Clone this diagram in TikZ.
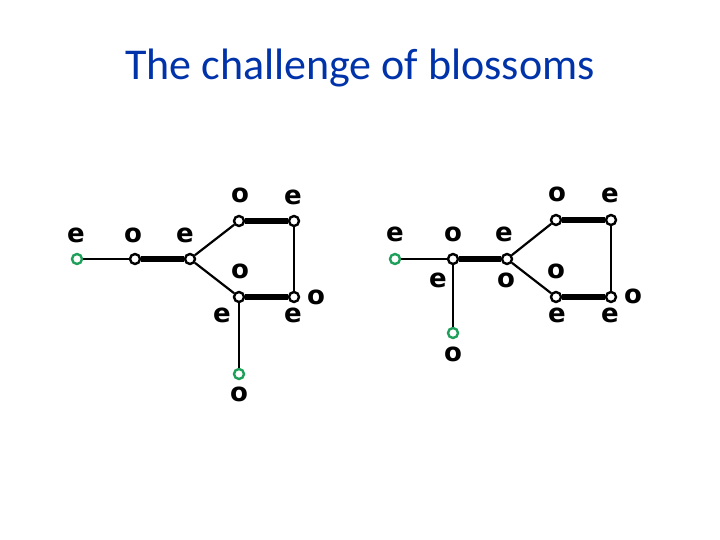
\documentclass[tikz,border=0pt]{standalone}
\usepackage{fontspec}
\setmainfont{Carlito}
\newfontfamily\lblfont{DejaVu Sans}
\definecolor{titleblue}{RGB}{0,51,170}
\definecolor{expgreen}{RGB}{30,160,90}
\begin{document}
\begin{tikzpicture}[x=1pt,y=-1pt,
  vtx/.style={circle,draw=black,fill=white,line width=2.4pt,inner sep=0pt,minimum size=10pt},
  expv/.style={vtx,draw=expgreen},
  thin edge/.style={line width=2.2pt},
  thick edge/.style={line width=6pt},
  lbl/.style={font=\lblfont\bfseries\fontsize{26}{26}\selectfont,inner sep=0pt,anchor=center}]
\useasboundingbox (0,0) rectangle (720,540);
\node[font=\fontsize{44}{48}\selectfont,text=titleblue] (title) at (360,68) {The challenge of blossoms};
% left graph
\node[expv] (a1) at (77,259) {};
\node[vtx] (b1) at (135,259) {};
\node[vtx] (c1) at (190,259) {};
\node[vtx] (d1) at (239,221) {};
\node[vtx] (e1) at (294,221) {};
\node[vtx] (f1) at (239,297) {};
\node[vtx] (g1) at (294,297) {};
\node[expv] (h1) at (239,374) {};
\draw[thin edge] (a1) -- (b1);
\draw[thick edge] (b1) -- (c1);
\draw[thin edge] (c1) -- (d1);
\draw[thin edge] (c1) -- (f1);
\draw[thick edge] (d1) -- (e1);
\draw[thin edge] (e1) -- (g1);
\draw[thick edge] (f1) -- (g1);
\draw[thin edge] (f1) -- (h1);
\node[lbl] (la1) at (76,235) {e};
\node[lbl] (lb1) at (133,235) {o};
\node[lbl] (lc1) at (185,235) {e};
\node[lbl] (ld1) at (240,195) {o};
\node[lbl] (le1) at (293,197) {e};
\node[lbl] (lf1) at (240,271) {o};
\node[lbl] (lf1b) at (222,315) {e};
\node[lbl] (lg1) at (316,297) {o};
\node[lbl] (lg1b) at (293,315) {e};
\node[lbl] (lh1) at (239,394) {o};
% right graph
\node[expv] (a2) at (395,259) {};
\node[vtx] (b2) at (453,259) {};
\node[vtx] (c2) at (507,259) {};
\node[vtx] (d2) at (556,220) {};
\node[vtx] (e2) at (611,220) {};
\node[vtx] (f2) at (556,297) {};
\node[vtx] (g2) at (611,297) {};
\node[expv] (h2) at (453,333) {};
\draw[thin edge] (a2) -- (b2);
\draw[thick edge] (b2) -- (c2);
\draw[thin edge] (b2) -- (h2);
\draw[thin edge] (c2) -- (d2);
\draw[thin edge] (c2) -- (f2);
\draw[thick edge] (d2) -- (e2);
\draw[thin edge] (e2) -- (g2);
\draw[thick edge] (f2) -- (g2);
\node[lbl] (la2) at (395,234) {e};
\node[lbl] (lb2) at (453,234) {o};
\node[lbl] (lc2) at (504,234) {e};
\node[lbl] (lb2b) at (438,280) {e};
\node[lbl] (lc2b) at (506,280) {o};
\node[lbl] (ld2) at (557,194) {o};
\node[lbl] (le2) at (610,195) {e};
\node[lbl] (lf2) at (556,271) {o};
\node[lbl] (lf2b) at (557,315) {e};
\node[lbl] (lg2) at (633,296) {o};
\node[lbl] (lg2b) at (610,315) {e};
\node[lbl] (lh2) at (453,354) {o};
\end{tikzpicture}
\end{document}
